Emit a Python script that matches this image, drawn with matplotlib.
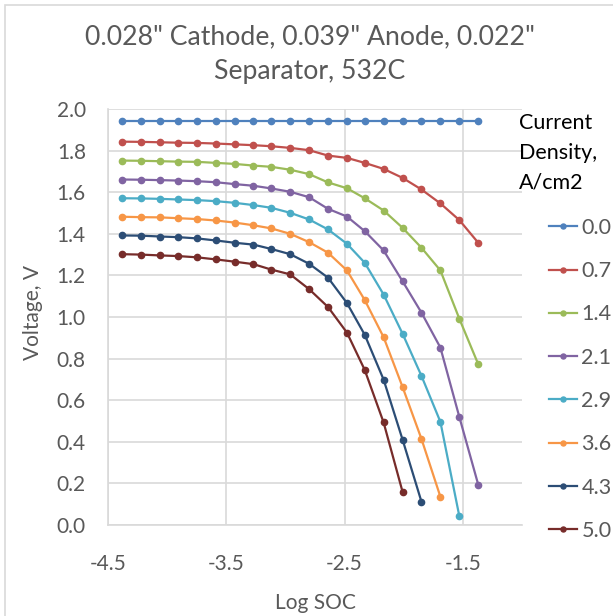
import numpy as np
import matplotlib
matplotlib.use("Agg")
import matplotlib.pyplot as plt
from matplotlib.patches import Rectangle

plt.rcParams['font.family'] = ['Lato', 'DejaVu Sans']

# Log SOC values (shared x for all curves)
log_soc = [-4.38, -4.22, -4.06, -3.91, -3.75, -3.59, -3.43, -3.27, -3.12, -2.96,
           -2.80, -2.64, -2.48, -2.33, -2.17, -2.01, -1.85, -1.69, -1.53, -1.37]

current_density = ["0.0", "0.7", "1.4", "2.1", "2.9", "3.6", "4.3", "5.0"]

v_00 = [1.94] * 20
v_07 = [1.843, 1.842, 1.840, 1.838, 1.837, 1.834, 1.830, 1.826, 1.821, 1.813,
        1.802, 1.776, 1.765, 1.741, 1.712, 1.669, 1.613, 1.546, 1.466, 1.357]
v_14 = [1.752, 1.751, 1.749, 1.747, 1.746, 1.741, 1.736, 1.728, 1.722, 1.708,
        1.687, 1.647, 1.619, 1.571, 1.512, 1.429, 1.333, 1.224, 0.992, 0.773]
v_21 = [1.661, 1.660, 1.658, 1.656, 1.653, 1.648, 1.639, 1.631, 1.618, 1.602,
        1.576, 1.520, 1.483, 1.413, 1.320, 1.172, 1.021, 0.853, 0.520, 0.194]
v_29 = [1.571, 1.570, 1.568, 1.565, 1.562, 1.557, 1.549, 1.538, 1.525, 1.501,
        1.469, 1.421, 1.352, 1.261, 1.108, 0.920, 0.717, 0.496, 0.043]
v_36 = [1.482, 1.480, 1.479, 1.475, 1.471, 1.464, 1.454, 1.441, 1.426, 1.400,
        1.360, 1.309, 1.224, 1.082, 0.903, 0.664, 0.414, 0.136]
v_43 = [1.392, 1.391, 1.387, 1.384, 1.378, 1.368, 1.357, 1.348, 1.327, 1.302,
        1.256, 1.189, 1.067, 0.915, 0.699, 0.411, 0.112]
v_50 = [1.302, 1.300, 1.296, 1.293, 1.287, 1.277, 1.266, 1.254, 1.228, 1.205,
        1.134, 1.048, 0.925, 0.746, 0.493, 0.160]

series = [v_00, v_07, v_14, v_21, v_29, v_36, v_43, v_50]
colors = ['#4F81BD', '#C0504D', '#9BBB59', '#8064A2', '#4BACC6', '#F79646', '#2C4D75', '#772C2A']

text_color = '#595959'
grid_color = '#D9D9D9'

fig = plt.figure(figsize=(6.13, 6.16), dpi=100)
ax = fig.add_axes([108 / 613, 1 - 525 / 616, 414 / 613, 416 / 616])

for vals, lab, c in zip(series, current_density, colors):
    ax.plot(log_soc[:len(vals)], vals, color=c, marker='o', markersize=4.5,
            linewidth=1.6, label=lab)

ax.set_xlim(-4.5, -1.0)
ax.set_ylim(0, 2.0)
ax.set_xticks([-4.5, -3.5, -2.5, -1.5])
ax.set_xticklabels(["-4.5", "-3.5", "-2.5", "-1.5"])
ax.set_yticks(np.arange(0, 2.01, 0.2))
ax.set_yticklabels([f"{v:.1f}" for v in np.arange(0, 2.01, 0.2)])
ax.grid(True, color=grid_color, linewidth=1.2)
ax.set_axisbelow(True)
for s in ['top', 'right']:
    ax.spines[s].set_visible(False)
for s in ['left', 'bottom']:
    ax.spines[s].set_color(grid_color)
    ax.spines[s].set_linewidth(1.2)
ax.tick_params(length=0, labelsize=15, colors=text_color)
ax.tick_params(axis='y', pad=16)
ax.tick_params(axis='x', pad=21)

ax.set_xlabel("Log SOC", fontsize=15, color=text_color, va='center')
ax.xaxis.set_label_coords(0.5, -0.188)
ax.set_ylabel("Voltage, V", fontsize=15, color=text_color, va='center')
ax.yaxis.set_label_coords(-0.181, 0.51)

fig.text(310 / 613, 1 - 54 / 616, "0.028\" Cathode, 0.039\" Anode, 0.022\"\nSeparator, 532C",
         ha='center', va='center', fontsize=19.2, color=text_color, linespacing=1.5)

fig.text(519 / 613, 1 - 113 / 616, "Current\nDensity,\nA/cm2", ha='left', va='top',
         fontsize=15.5, color='black', linespacing=1.6)

leg = ax.legend(loc='upper left', bbox_to_anchor=(549 / 613, 1 - 218 / 616),
                bbox_transform=fig.transFigure, frameon=False, fontsize=15.5,
                handlelength=1.3, handletextpad=0.2, borderpad=0, borderaxespad=0,
                labelspacing=1.08, markerscale=0.8)
for t in leg.get_texts():
    t.set_color(text_color)

# chart area border
fig.patches.append(Rectangle((5 / 613, -0.1), 1.2, 1 - 5 / 616 + 0.1,
                             transform=fig.transFigure, fill=False,
                             edgecolor=grid_color, linewidth=1.2))

fig.savefig("out.png", dpi=100)
